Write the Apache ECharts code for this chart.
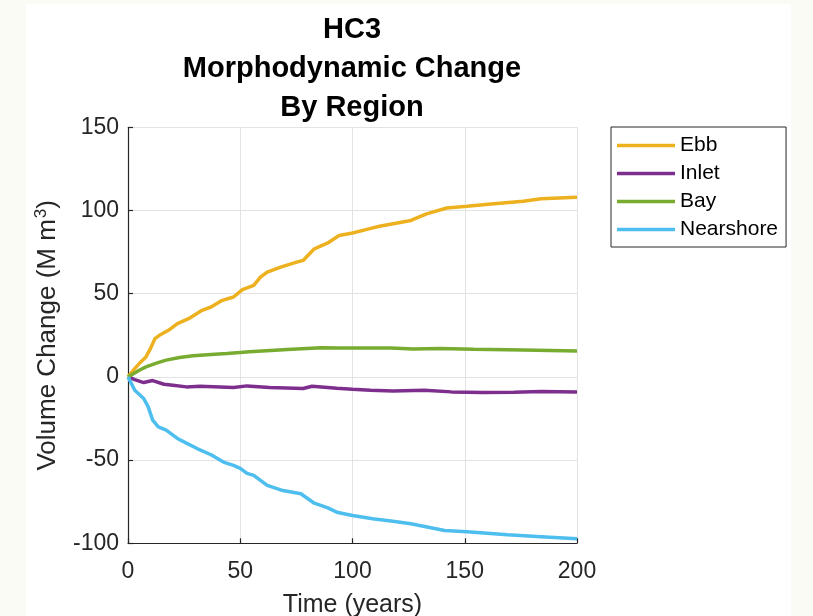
<!DOCTYPE html>
<html>
<head>
<meta charset="utf-8">
<script src="https://cdn.jsdelivr.net/npm/echarts@6/dist/echarts.min.js"></script>
<style>
  html, body { margin: 0; padding: 0; }
  #chart { width: 813px; height: 616px; }
</style>
</head>
<body>
<div id="chart"></div>
<script>
// Cumulative volume change per region (M m^3) against time (years)
const seriesNames = ['Ebb', 'Inlet', 'Bay', 'Nearshore'];
const seriesColors = ['#EDB120', '#7E2F8E', '#77AC30', '#4DBEEE'];

const ebbYears = [0, 3, 5, 8, 10, 12, 14, 18, 22, 27, 33, 37, 42, 47, 51, 56, 59, 62, 68, 74, 78, 83, 89, 94, 100, 106, 112, 120, 126, 133, 142, 151, 163, 176, 184, 200];
const ebbValues = [0, 5, 8, 12, 17, 23, 25, 28, 32, 35, 40, 42, 46, 48, 52.5, 55, 60, 63, 66, 68.5, 70, 77, 80.5, 85, 86.5, 88.5, 90.5, 92.5, 94, 98, 101.5, 102.5, 104, 105.5, 107, 108];

const inletYears = [0, 3, 7, 11, 16, 20, 26, 32, 41, 47, 53, 63, 78, 82, 93, 100, 108, 118, 132, 144, 158, 172, 184, 200];
const inletValues = [0, -1.6, -3.4, -2.2, -4.4, -5, -6, -5.6, -6, -6.4, -5.4, -6.4, -7, -5.6, -6.8, -7.4, -8, -8.4, -8, -9, -9.4, -9.2, -8.8, -9];

const bayYears = [0, 5, 8, 13, 17, 23, 29, 37, 44, 50, 54, 71, 86, 95, 108, 117, 127, 139, 154, 176, 200];
const bayValues = [0, 4, 6, 8.4, 10.1, 11.7, 12.7, 13.5, 14.1, 14.7, 15.1, 16.5, 17.5, 17.3, 17.3, 17.3, 16.7, 17.1, 16.6, 16.1, 15.5];

const nearshoreYears = [0, 3, 7, 9, 11, 13.5, 17, 22, 26, 31, 37, 42.5, 47, 50, 53, 56, 62, 69, 77, 83, 89, 93, 100, 109, 118, 126, 141, 151, 169, 184, 200];
const nearshoreValues = [0, -8, -13, -18, -26, -30, -32, -37, -39.8, -43.2, -46.8, -51.2, -53.2, -55, -58, -59.2, -65.2, -68.3, -70.2, -75.9, -78.7, -81.3, -83.3, -85.3, -86.7, -88.3, -92.3, -93, -94.8, -96, -97.3];

const xTicks = { min: 0, max: 200, interval: 50 };
const yTicks = { min: -100, max: 150, interval: 50 };

const allYears = [ebbYears, inletYears, bayYears, nearshoreYears];
const allValues = [ebbValues, inletValues, bayValues, nearshoreValues];

const font = "'Liberation Sans', Arial, Helvetica, sans-serif";
const axisInk = '#262626';

const chart = echarts.init(document.getElementById('chart'), null, { renderer: 'canvas' });

chart.setOption({
  backgroundColor: '#fafbf5',
  animation: false,
  graphic: [{
    type: 'rect',
    z: -10,
    shape: { x: 26, y: 4, width: 765, height: 612 },
    style: { fill: '#ffffff' }
  }],
  title: {
    text: 'HC3\nMorphodynamic Change\nBy Region',
    left: 352,
    top: 10,
    padding: 0,
    textAlign: 'center',
    textStyle: {
      fontFamily: font,
      fontWeight: 'bold',
      fontSize: 29,
      lineHeight: 39,
      color: '#000000'
    }
  },
  legend: {
    data: seriesNames,
    orient: 'vertical',
    left: 611,
    top: 127,
    padding: [8, 8, 7, 6],
    itemGap: 7,
    itemWidth: 58,
    itemHeight: 3.5,
    icon: 'rect',
    itemTextGap: 5,
    borderColor: axisInk,
    borderWidth: 1,
    backgroundColor: '#ffffff',
    textStyle: { fontFamily: font, fontSize: 21, lineHeight: 21, color: '#000000' }
  },
  grid: { left: 128, top: 127.3, width: 449, height: 416, outerBoundsMode: 'none', containLabel: false },
  xAxis: {
    type: 'value',
    min: xTicks.min, max: xTicks.max, interval: xTicks.interval,
    name: 'Time (years)',
    nameLocation: 'middle',
    nameGap: 49,
    nameTextStyle: { fontFamily: font, fontSize: 25, color: axisInk },
    axisLine: { show: true, onZero: false, lineStyle: { color: axisInk, width: 1.2 } },
    axisTick: { show: true, inside: true, length: 5, lineStyle: { color: axisInk, width: 1.2 } },
    axisLabel: { fontFamily: font, fontSize: 23, color: axisInk, margin: 17 },
    splitLine: { show: true, lineStyle: { color: '#e3e3e3', width: 1 } }
  },
  yAxis: {
    type: 'value',
    min: yTicks.min, max: yTicks.max, interval: yTicks.interval,
    name: 'Volume Change (M m{sup|3})',
    nameLocation: 'middle',
    nameGap: 66,
    nameTextStyle: {
      fontFamily: font, fontSize: 26, color: axisInk,
      rich: { sup: { fontFamily: font, fontSize: 17, color: axisInk, verticalAlign: 'top', padding: [0, 0, 12, 1] } }
    },
    axisLine: { show: true, onZero: false, lineStyle: { color: axisInk, width: 1.2 } },
    axisTick: { show: true, inside: true, length: 5, lineStyle: { color: axisInk, width: 1.2 } },
    axisLabel: { fontFamily: font, fontSize: 23, color: axisInk, margin: 9 },
    splitLine: { show: true, lineStyle: { color: '#e3e3e3', width: 1 } }
  },
  series: seriesNames.map((name, i) => ({
    name: name,
    type: 'line',
    symbol: 'none',
    color: seriesColors[i],
    lineStyle: { width: 3.5, color: seriesColors[i] },
    data: allYears[i].map((t, k) => [t, allValues[i][k]])
  }))
});
</script>
</body>
</html>
